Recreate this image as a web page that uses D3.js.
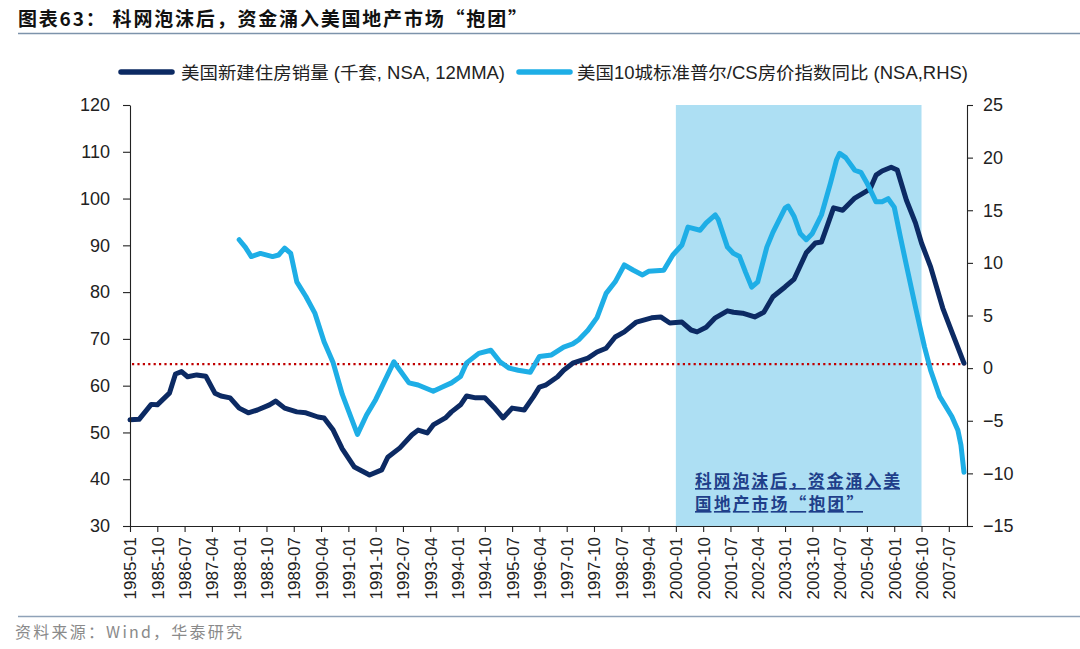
<!DOCTYPE html>
<html><head><meta charset="utf-8">
<script src="https://cdn.jsdelivr.net/npm/d3@7/dist/d3.min.js"></script>
<style>
html,body{margin:0;padding:0;background:#fff;}
svg{display:block;}
</style></head>
<body>
<svg id="chart" width="1080" height="649"></svg>
<script>
// ---- data ----
const xTickLabels = ["1985-01","1985-10","1986-07","1987-04","1988-01","1988-10","1989-07","1990-04","1991-01","1991-10","1992-07","1993-04","1994-01","1994-10","1995-07","1996-04","1997-01","1997-10","1998-07","1999-04","2000-01","2000-10","2001-07","2002-04","2003-01","2003-10","2004-07","2005-04","2006-01","2006-10","2007-07"];
const leftTicks = [30,40,50,60,70,80,90,100,110,120];
const rightTicks = [-15,-10,-5,0,5,10,15,20,25];

const salesDates = ["1985-01","1985-04","1985-08","1985-10","1986-02","1986-04","1986-06","1986-08","1986-11","1987-02","1987-05","1987-07","1987-10","1988-01","1988-04","1988-07","1988-11","1989-01","1989-04","1989-08","1989-11","1990-03","1990-05","1990-08","1990-11","1991-03","1991-08","1991-12","1992-02","1992-06","1992-10","1992-12","1993-03","1993-05","1993-09","1993-11","1994-02","1994-04","1994-07","1994-10","1995-01","1995-04","1995-07","1995-11","1996-02","1996-04","1996-06","1996-10","1996-12","1997-03","1997-08","1997-11","1998-02","1998-05","1998-08","1998-12","1999-05","1999-08","1999-11","2000-03","2000-06","2000-08","2000-11","2001-02","2001-06","2001-08","2001-11","2002-03","2002-06","2002-09","2003-01","2003-04","2003-08","2003-11","2004-01","2004-03","2004-05","2004-08","2004-12","2005-05","2005-07","2005-09","2005-12","2006-02","2006-05","2006-08","2006-10","2007-01","2007-05","2007-08","2007-12"];
const salesValues = [52.7,52.8,56.0,55.9,58.4,62.5,63.0,61.9,62.3,62.0,58.4,57.8,57.4,55.2,54.2,54.8,55.9,56.7,55.2,54.4,54.2,53.3,53.1,50.5,46.5,42.6,40.9,42.0,44.7,46.7,49.5,50.5,49.9,51.6,53.1,54.4,55.9,57.8,57.4,57.4,55.4,53.1,55.2,54.8,57.6,59.7,60.1,61.9,63.3,64.8,65.9,67.2,68.0,70.4,71.5,73.6,74.5,74.7,73.4,73.6,71.9,71.5,72.5,74.5,76.0,75.7,75.5,74.7,75.7,79.0,81.1,82.8,88.4,90.5,90.7,94.3,98.0,97.5,100.1,102.0,105.0,105.9,106.7,106.1,99.7,94.8,90.5,85.4,76.6,71.5,64.8];

const hpiDates = ["1988-01","1988-03","1988-05","1988-08","1988-12","1989-02","1989-04","1989-06","1989-08","1989-11","1990-02","1990-05","1990-08","1990-11","1991-04","1991-07","1991-10","1991-12","1992-04","1992-06","1992-09","1992-12","1993-05","1993-08","1993-11","1994-02","1994-04","1994-08","1994-12","1995-03","1995-06","1995-09","1996-01","1996-04","1996-08","1996-12","1997-03","1997-05","1997-08","1997-11","1998-02","1998-05","1998-08","1998-11","1999-02","1999-04","1999-09","1999-12","2000-03","2000-05","2000-09","2000-11","2001-02","2001-03","2001-06","2001-08","2001-10","2001-12","2002-02","2002-04","2002-07","2002-09","2003-01","2003-02","2003-04","2003-06","2003-08","2003-10","2004-01","2004-04","2004-06","2004-07","2004-09","2004-12","2005-02","2005-04","2005-07","2005-09","2005-11","2006-01","2006-03","2006-05","2006-08","2006-11","2007-01","2007-04","2007-08","2007-10","2007-11","2007-12"];
const hpiValues = [12.2,11.5,10.6,10.9,10.6,10.75,11.4,10.9,8.2,6.8,5.2,2.5,0.5,-2.5,-6.3,-4.45,-3.0,-1.8,0.6,-0.2,-1.4,-1.6,-2.2,-1.8,-1.4,-0.8,0.5,1.4,1.7,0.6,0.0,-0.2,-0.4,1.1,1.25,2.0,2.3,2.7,3.6,4.8,7.1,8.2,9.8,9.3,8.85,9.2,9.3,10.75,11.7,13.4,13.1,13.8,14.55,14.1,11.5,10.9,10.6,9.1,7.7,8.2,11.5,12.9,15.2,15.4,14.4,12.8,12.2,12.8,14.55,17.6,19.8,20.4,20.0,18.8,18.6,17.6,15.8,15.8,16.1,15.3,12.5,9.8,5.8,2.0,-0.2,-2.7,-4.6,-5.9,-7.3,-9.9];

const refLineValue = 64.6;          // left-axis value of dotted reference line
const shadeStart = "2000-01", shadeEnd = "2006-10";
const axisEndIndex = 276;

const titleText = "图表63：  科网泡沫后，资金涌入美国地产市场“抱团”";
const legend1 = "美国新建住房销量 (千套, NSA, 12MMA)";
const legend2 = "美国10城标准普尔/CS房价指数同比 (NSA,RHS)";
const noteLines = ["科网泡沫后，资金涌入美","国地产市场“抱团”"];
const sourceText = "资料来源：Wind，华泰研究";

// ---- helpers ----
function mIdx(s){ const [y,m]=s.split("-").map(Number); return (y-1985)*12 + (m-1); }

const svg = d3.select("#chart");
const L=130, R=967, T=105, B=526;
const x = d3.scaleLinear().domain([0, axisEndIndex]).range([L, R]);
const yL = d3.scaleLinear().domain([30,120]).range([B,T]);
const yR = d3.scaleLinear().domain([-15,25]).range([B,T]);

const latin = "'Liberation Sans', Arial, 'Noto Sans CJK SC', sans-serif";
const cjk = "'Noto Sans CJK SC', 'Liberation Sans', sans-serif";

// title
svg.append("text").attr("x",18).attr("y",26).text(titleText)
  .attr("font-family",cjk).attr("font-weight",700).attr("font-size",19)
  .attr("textLength",509).attr("lengthAdjust","spacing").attr("fill","#111");
svg.append("line").attr("x1",18).attr("x2",1080).attr("y1",33.5).attr("y2",33.5)
  .attr("stroke","#7d93ab").attr("stroke-width",1.5);

// shaded region
svg.append("rect").attr("x",x(mIdx(shadeStart))).attr("y",T)
  .attr("width",x(mIdx(shadeEnd))-x(mIdx(shadeStart))).attr("height",B-T)
  .attr("fill","#addff3");

// annotation
const noteW = [205, 168];
noteLines.forEach((t,i)=>{
  svg.append("text").attr("x",695).attr("y",487+i*23).text(t)
    .attr("font-family",cjk).attr("font-weight",700).attr("font-size",16.5)
    .attr("textLength",noteW[i]).attr("lengthAdjust","spacing")
    .attr("fill","#1f3f8a").attr("text-decoration","underline");
});

// reference dotted line
svg.append("line").attr("x1",L+2).attr("x2",R).attr("y1",yL(refLineValue)).attr("y2",yL(refLineValue))
  .attr("stroke","#c00000").attr("stroke-width",2.4).attr("stroke-dasharray","2.2,3.2");

// lines
const salesData = salesDates.map((d,i)=>({m:mIdx(d), v:salesValues[i]}));
const hpiData = hpiDates.map((d,i)=>({m:mIdx(d), v:hpiValues[i]}));
svg.append("path").datum(salesData)
  .attr("d", d3.line().x(d=>x(d.m)).y(d=>yL(d.v)))
  .attr("fill","none").attr("stroke","#0c2a63").attr("stroke-width",5)
  .attr("stroke-linejoin","round").attr("stroke-linecap","round");
svg.append("path").datum(hpiData)
  .attr("d", d3.line().x(d=>x(d.m)).y(d=>yR(d.v)))
  .attr("fill","none").attr("stroke","#1eaee6").attr("stroke-width",5)
  .attr("stroke-linejoin","round").attr("stroke-linecap","round");

// axes
const gL = svg.append("g").attr("transform",`translate(${L},0)`)
  .call(d3.axisLeft(yL).tickValues(leftTicks).tickSize(7).tickSizeOuter(0).tickPadding(13));
const gR = svg.append("g").attr("transform",`translate(${R},0)`)
  .call(d3.axisRight(yR).tickValues(rightTicks).tickSize(6).tickSizeOuter(0).tickPadding(10));
const gB = svg.append("g").attr("transform",`translate(0,${B})`)
  .call(d3.axisBottom(x).tickValues(xTickLabels.map(mIdx)).tickFormat((d,i)=>xTickLabels[i]).tickSize(6).tickSizeOuter(0));
[gL,gR].forEach(g=>{
  g.selectAll("text").attr("font-family",latin).attr("font-size",18).attr("fill","#222");
});
gB.selectAll("text").attr("font-family",latin).attr("font-size",17).attr("fill","#222")
  .attr("transform","rotate(-90)").attr("text-anchor","end")
  .attr("x",-11).attr("y",0).attr("dy","0.35em");
[gL,gR,gB].forEach(g=>{
  g.selectAll("path,line").attr("stroke","#222").attr("stroke-width",1.1);
});

// legend
const lg = svg.append("g");
lg.append("line").attr("x1",121).attr("x2",172).attr("y1",72).attr("y2",72)
  .attr("stroke","#0c2a63").attr("stroke-width",5.5).attr("stroke-linecap","round");
lg.append("text").attr("x",181).attr("y",78.5).text(legend1)
  .attr("font-family",latin).attr("font-size",17.5).attr("fill","#222")
  .attr("textLength",324).attr("lengthAdjust","spacingAndGlyphs");
lg.append("line").attr("x1",519).attr("x2",570).attr("y1",72).attr("y2",72)
  .attr("stroke","#1eaee6").attr("stroke-width",5.5).attr("stroke-linecap","round");
lg.append("text").attr("x",577).attr("y",78.5).text(legend2)
  .attr("font-family",latin).attr("font-size",17.5).attr("fill","#222")
  .attr("textLength",391).attr("lengthAdjust","spacingAndGlyphs");

// footer
svg.append("line").attr("x1",18).attr("x2",1080).attr("y1",616.5).attr("y2",616.5)
  .attr("stroke","#8fa2b8").attr("stroke-width",1.5);
svg.append("text").attr("x",15).attr("y",638).text(sourceText)
  .attr("font-family",cjk).attr("font-size",16).attr("fill","#8a8a8a")
  .attr("textLength",227).attr("lengthAdjust","spacing");
</script>
</body></html>
